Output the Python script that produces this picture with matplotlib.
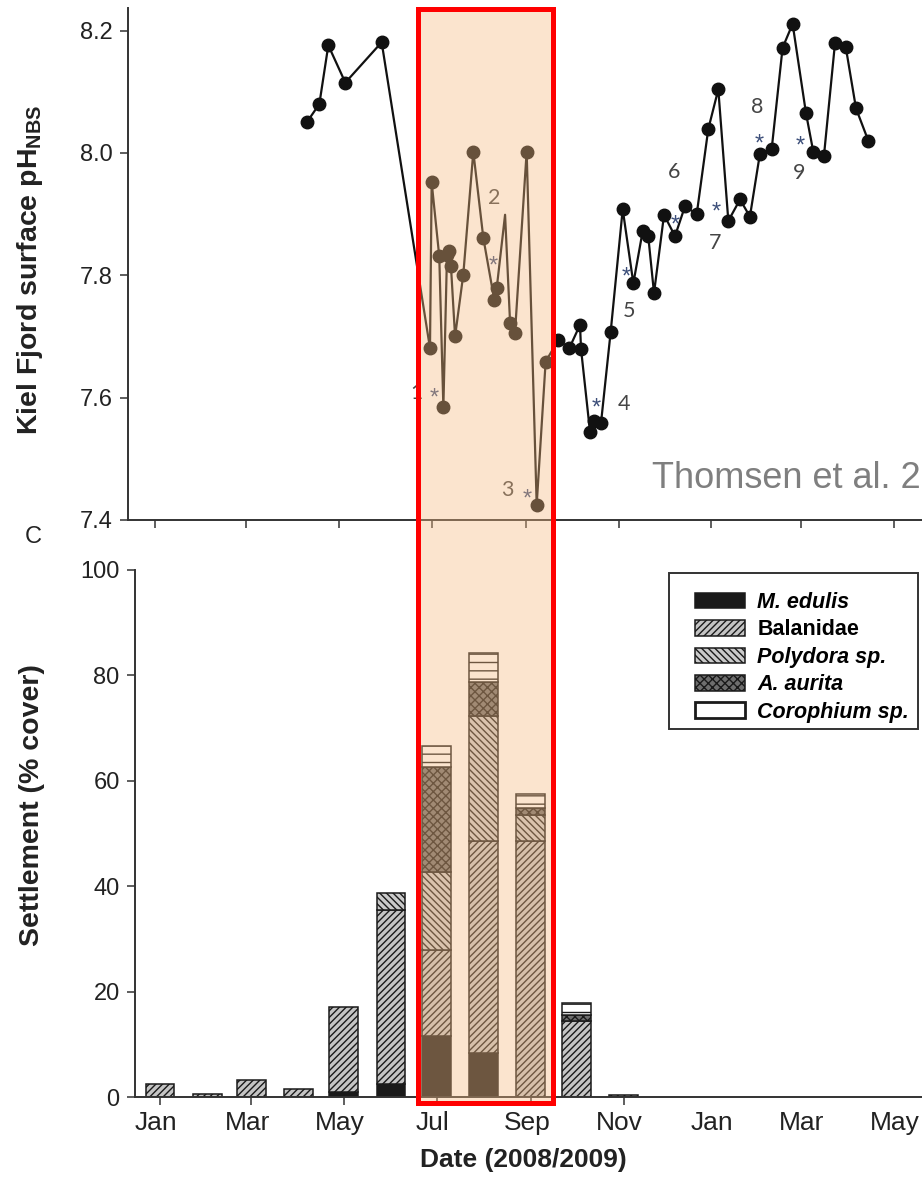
"""Kiel Fjord surface pH (top) and monthly settlement (bottom), 2008/2009."""
import numpy as np
import pandas as pd
import matplotlib
matplotlib.use("Agg")
import matplotlib.pyplot as plt
from matplotlib.patches import Patch, Rectangle
from matplotlib.transforms import ScaledTranslation

plt.rcParams.update({"font.family": ["Liberation Sans", "DejaVu Sans"],
                     "hatch.linewidth": 1.0, "mathtext.default": "regular"})

W, H = 922, 1188
BASE = pd.Timestamp("2008-01-01")

# ---- surface pH, days since 2008-01-01
ph_day = [99.8, 108.1, 114.0, 125.2, 149.1,
          180.9, 182.0, 187.0, 189.7, 192.1, 193.4, 194.7, 197.4, 202.8, 209.4,
          216.0, 223.2, 224.8, 230.3, 233.6, 236.8, 244.5, 251.1, 257.0,
          265.3, 272.6, 279.6, 280.3, 286.2, 288.8, 293.4, 299.8, 307.7, 314.7,
          320.9, 324.5, 328.3, 334.9, 342.1, 348.7, 356.4, 364.0, 370.6, 377.2,
          384.9, 391.4, 398.0, 405.7, 412.9, 419.5, 428.3, 433.1, 440.1, 447.4,
          454.4, 461.2, 469.3]
ph_val = [8.050, 8.080, 8.176, 8.115, 8.181,
          7.681, 7.952, 7.831, 7.585, 7.834, 7.840, 7.815, 7.700, 7.801, 8.002,
          7.861, 7.760, 7.779, 7.899, 7.722, 7.705, 8.002, 7.425, 7.659,
          7.694, 7.681, 7.719, 7.679, 7.544, 7.562, 7.558, 7.708, 7.908, 7.787,
          7.873, 7.864, 7.771, 7.899, 7.864, 7.913, 7.900, 8.039, 8.104, 7.889,
          7.924, 7.896, 7.999, 8.006, 8.172, 8.211, 8.065, 8.002, 7.995, 8.180,
          8.174, 8.073, 8.020]
ph_unmarked = [18]  # line vertex drawn without a dot

# ---- upwelling events: number label and asterisk positions
event_labels = ["1", "2", "3", "4", "5", "6", "7", "8", "9"]
event_num_day = [171.7, 223.0, 231.6, 308.6, 311.8, 341.4, 368.4, 396.1, 423.7]
event_num_ph = [7.608, 7.927, 7.449, 7.590, 7.742, 7.969, 7.853, 8.075, 7.967]
event_star_day = [183.6, 222.4, 244.7, 290.1, 309.9, 342.1, 369.1, 397.4, 424.3]
event_star_ph = [7.608, 7.825, 7.443, 7.593, 7.806, 7.891, 7.913, 8.023, 8.020]

# ---- settlement (% cover), one bar per month Jan..Nov 2008
bar_months = pd.date_range("2008-01-01", periods=11, freq="MS")
species = ["M. edulis", "Balanidae", "Polydora sp.", "A. aurita", "Corophium sp."]
m_edulis = [0, 0, 0, 0, 1.0, 2.5, 11.6, 8.3, 0, 0, 0]
balanidae = [2.4, 0.6, 3.3, 1.5, 16.0, 33.0, 16.3, 40.3, 48.6, 14.4, 0.3]
polydora = [0, 0, 0, 0, 0, 3.3, 14.7, 23.7, 5.0, 0, 0]
a_aurita = [0, 0, 0, 0, 0, 0, 20.0, 6.4, 1.3, 1.2, 0]
corophium = [0, 0, 0, 0, 0, 0, 4.0, 5.5, 2.6, 2.3, 0]

tick_dates = pd.date_range("2008-01-01", "2009-05-01", freq="2MS")


def px_box(left, top, right, bottom):
    return [left / W, 1 - bottom / H, (right - left) / W, (bottom - top) / H]


def fx(x):
    return x / W


def fy(y):
    return 1 - y / H


fig = plt.figure(figsize=(W / 100, H / 100), dpi=100)
ink = "#222222"
axis_col = "#333333"
tick_days = (tick_dates - BASE).days

# ---------------- top: pH
ax1 = fig.add_axes(px_box(128, 8, 975, 520))
marks = [i for i in range(len(ph_day)) if i not in ph_unmarked]
ax1.plot(ph_day, ph_val, color="#111111", lw=1.6, marker="o", ms=9,
         markevery=marks, zorder=3)
for lab, nd, nv, sd, sv in zip(event_labels, event_num_day, event_num_ph,
                               event_star_day, event_star_ph):
    ax1.text(nd, nv, lab, fontsize=15.5, color="#454545", family="Lato",
             ha="center", va="center", zorder=4)
    ax1.text(sd, sv - 0.01, "*", fontsize=17, color="#3d4f7a",
             ha="center", va="center", zorder=4)
ax1.set_xlim(-17.8, 539.5)
ax1.set_ylim(7.4, 8.237)
ax1.set_yticks([7.4, 7.6, 7.8, 8.0, 8.2])
ax1.set_yticklabels([f"{v:.1f}" for v in [7.4, 7.6, 7.8, 8.0, 8.2]])
ax1.set_xticks(tick_days)
ax1.set_xticklabels([])
for s in ("top", "right"):
    ax1.spines[s].set_visible(False)
for s in ("left", "bottom"):
    ax1.spines[s].set_linewidth(1.4)
    ax1.spines[s].set_color(axis_col)
ax1.tick_params(length=6, width=1.1, color=axis_col, labelsize=17,
                labelcolor=ink, pad=5)

# ---------------- bottom: settlement
ax2 = fig.add_axes(px_box(135, 570, 975, 1097))
bar_day = np.array((bar_months - BASE).days, dtype=float)
styles = [("#1a1a1a", ""), ("#c4c4c4", "/////"), ("#cacaca", "\\\\\\\\\\"),
          ("#6e6e6e", "xxxx"), ("white", "--")]
bottom = np.zeros(len(bar_day))
for vals, (fc, hatch) in zip([m_edulis, balanidae, polydora, a_aurita, corophium],
                             styles):
    vals = np.asarray(vals, dtype=float)
    keep = vals > 0
    ax2.bar(bar_day[keep], vals[keep], width=19, bottom=bottom[keep],
            color=fc, edgecolor="#1a1a1a", hatch=hatch, linewidth=1.1,
            zorder=2)
    bottom += vals
ax2.set_xlim(-16.45, 536.2)
ax2.set_ylim(0, 100)
ax2.set_yticks([0, 20, 40, 60, 80, 100])
ax2.set_xticks(tick_days)
ax2.set_xticklabels(tick_dates.strftime("%b"))
for s in ("top", "right"):
    ax2.spines[s].set_visible(False)
for s in ("left", "bottom"):
    ax2.spines[s].set_linewidth(1.4)
    ax2.spines[s].set_color(axis_col)
ax2.tick_params(length=6, width=1.1, color=axis_col, labelsize=17,
                labelcolor=ink, pad=5)
ax2.tick_params(axis="x", labelsize=19, pad=4)
for t in ax2.xaxis.get_major_ticks()[6:]:
    t.tick1line.set_visible(False)
shift = ScaledTranslation(-4 / 100, 0, fig.dpi_scale_trans)
for lbl in ax2.get_xticklabels():
    lbl.set_transform(lbl.get_transform() + shift)

# legend: entries placed by matplotlib, frame drawn to the reference box
handles = [Patch(facecolor=fc, edgecolor="#1a1a1a", hatch=h, linewidth=1.1)
           for fc, h in styles[:4]]
handles.append(Patch(facecolor="white", edgecolor="#1a1a1a", linewidth=2))
leg = ax2.legend(handles, species, loc="upper left",
                 bbox_to_anchor=(fx(695), fy(592)),
                 bbox_transform=fig.transFigure,
                 prop={"weight": "bold", "size": 15.5},
                 handlelength=2.33, handleheight=0.75, handletextpad=0.56,
                 labelspacing=0.3, borderpad=0, borderaxespad=0,
                 frameon=False)
for i, txt in enumerate(leg.get_texts()):
    if i != 1:
        txt.set_fontstyle("italic")
fig.add_artist(Rectangle((fx(669), fy(729)), fx(918) - fx(669),
                         fy(573) - fy(729), transform=fig.transFigure,
                         facecolor="none", edgecolor=axis_col,
                         linewidth=1.4, zorder=1))

# ---------------- labels
fig.text(fx(30), fy(270), r"Kiel Fjord surface pH$_{NBS}$", rotation=90,
         fontsize=20.5, weight="bold", ha="center", va="center", color=ink)
fig.text(fx(32), fy(805), "Settlement (% cover)", rotation=90,
         fontsize=20.5, weight="bold", ha="center", va="center", color=ink)
fig.text(fx(523), fy(1160), "Date (2008/2009)", fontsize=19,
         weight="bold", ha="center", va="center", color=ink)
fig.text(fx(33), fy(537), "C", fontsize=17, ha="center", va="center",
         color=ink)
fig.text(fx(652), fy(488), "Thomsen et al. 2010", fontsize=26,
         color="#7f7f7f", ha="left", va="baseline")

# ---------------- highlighted summer window
x0, x1, y0, y1 = 417.5, 552.5, 8.5, 1102.5
fig.add_artist(Rectangle((fx(x0), fy(y1)), fx(x1) - fx(x0), fy(y0) - fy(y1),
                         transform=fig.transFigure,
                         facecolor=(0.965, 0.73, 0.50, 0.38),
                         edgecolor="none", zorder=10))
fig.add_artist(Rectangle((fx(x0), fy(y1)), fx(x1) - fx(x0), fy(y0) - fy(y1),
                         transform=fig.transFigure, facecolor="none",
                         edgecolor="#ff0000", linewidth=3.6, zorder=11))

fig.savefig("out.png", dpi=100)
